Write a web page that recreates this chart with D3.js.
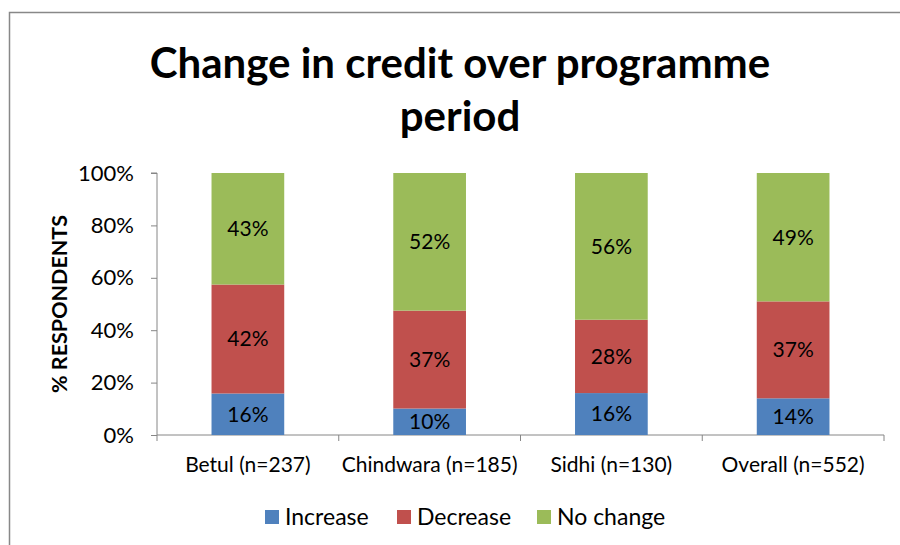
<!DOCTYPE html>
<html>
<head>
<meta charset="utf-8">
<script src="https://cdn.jsdelivr.net/npm/d3@7"></script>
<style>
  body { margin: 0; background: #fff; }
  text { font-family: Lato, "Open Sans", sans-serif; fill: #000; }
</style>
</head>
<body>
<div id="chart"></div>
<script>
// chart data
var categories = ["Betul (n=237)", "Chindwara (n=185)", "Sidhi (n=130)", "Overall (n=552)"];
var seriesNames = ["Increase", "Decrease", "No change"];
var increase = [16, 10, 16, 14];
var decrease = [42, 37, 28, 37];
var noChange = [43, 52, 56, 49];
var yTicks = [0, 0.2, 0.4, 0.6, 0.8, 1];
var colors = ["#4f81bd", "#c0504d", "#9bbb59"];

var width = 900, height = 545;
var margin = {top: 173, right: 16, bottom: 110, left: 157};
var plotW = width - margin.left - margin.right,
    plotH = height - margin.top - margin.bottom;

var svg = d3.select("#chart").append("svg")
    .attr("width", width)
    .attr("height", height);

// outer chart border
svg.append("rect")
  .attr("x", 9.5).attr("y", 12.5)
  .attr("width", width + 20).attr("height", height + 20)
  .attr("fill", "none")
  .attr("stroke", "#888")
  .attr("stroke-width", 1.5)

svg.append("text")
  .attr("x", 460).attr("y", 78)
  .attr("text-anchor", "middle")
  .attr("font-size", "42px")
  .attr("font-weight", "bold")
  .text("Change in credit over programme")
svg.append("text")
  .attr("x", 460).attr("y", 131)
  .attr("text-anchor", "middle")
  .attr("font-size", "42px")
  .attr("font-weight", "bold")
  .text("period")

var g = svg.append("g")
  .attr("transform", "translate(" + margin.left + "," + margin.top + ")");

var rows = categories.map(function(c, i){
  return {cat: c, "Increase": increase[i], "Decrease": decrease[i], "No change": noChange[i]};
});

var stack = d3.stack().keys(seriesNames).offset(d3.stackOffsetExpand);
var layers = stack(rows);

var x = d3.scaleBand()
  .domain(categories)
  .range([0, plotW])
  .paddingInner(0.6)
  .paddingOuter(0.3);

var y = d3.scaleLinear()
  .domain([0, 1])
  .range([plotH, 0]);

// y axis
var yAxis = g.append("g")
  .call(d3.axisLeft(y).tickValues(yTicks).tickFormat(d3.format(".0%")).tickSize(6).tickPadding(17))
yAxis.select(".domain").attr("stroke", "#868686").attr("d", "M-6," + y(1) + "H0V" + y(0));
yAxis.selectAll(".tick line").attr("stroke", "#868686");
yAxis.selectAll(".tick text").attr("font-size", "22px");

// x axis with ticks between categories
var step = plotW / categories.length;
var xAxis = g.append("g").attr("transform", "translate(0," + plotH + ")");
xAxis.append("line")
  .attr("x1", 0).attr("x2", plotW)
  .attr("stroke", "#868686")
xAxis.selectAll(".sep")
  .data(d3.range(categories.length + 1))
  .enter().append("line")
  .attr("x1", function(d){ return d * step; })
  .attr("x2", function(d){ return d * step; })
  .attr("y1", 0).attr("y2", 6)
  .attr("stroke", "#868686")
xAxis.selectAll(".lbl")
  .data(categories)
  .enter().append("text")
  .attr("x", function(d){ return x(d) + x.bandwidth() / 2; })
  .attr("y", 37)
  .attr("text-anchor", "middle")
  .attr("font-size", "21px")
  .text(function(d){ return d; })

// y axis title
svg.append("text")
  .attr("transform", "translate(67," + (margin.top + plotH / 2) + ") rotate(-90)")
  .attr("text-anchor", "middle")
  .attr("font-size", "21.5px")
  .attr("font-weight", "bold")
  .text("% RESPONDENTS")

var layerG = g.selectAll(".layer")
  .data(layers)
  .enter().append("g")
  .attr("fill", function(d, i){ return colors[i]; })

layerG.selectAll("rect")
  .data(function(d){ return d; })
  .enter().append("rect")
  .attr("x", function(d){ return x(d.data.cat); })
  .attr("y", function(d){ return y(d[1]); })
  .attr("height", function(d){ return y(d[0]) - y(d[1]); })
  .attr("width", x.bandwidth())

layerG.selectAll("text")
  .data(function(d){ return d.map(function(p){ p.key = d.key; return p; }); })
  .enter().append("text")
  .attr("x", function(d){ return x(d.data.cat) + x.bandwidth() / 2; })
  .attr("y", function(d){ return (y(d[0]) + y(d[1])) / 2; })
  .attr("dy", "0.35em")
  .attr("text-anchor", "middle")
  .attr("font-size", "21px")
  .text(function(d){ return d.data[d.key] + "%"; })

// legend
var legendX = [265, 397, 537];
var legend = svg.selectAll(".legend")
  .data(seriesNames)
  .enter().append("g")
  .attr("transform", function(d, i){ return "translate(" + legendX[i] + ",510)"; })
legend.append("rect")
  .attr("width", 14).attr("height", 14)
  .attr("fill", function(d, i){ return colors[i]; })
legend.append("text")
  .attr("x", 20).attr("y", 7)
  .attr("dy", "0.35em")
  .attr("font-size", "23px")
  .text(function(d){ return d; })
</script>
</body>
</html>
